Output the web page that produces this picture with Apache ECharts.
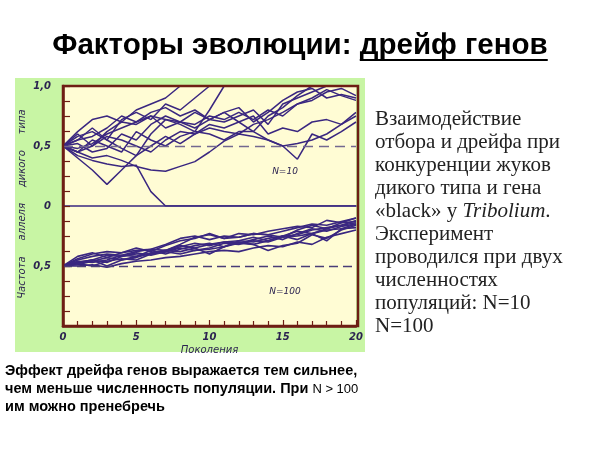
<!DOCTYPE html>
<html><head><meta charset="utf-8">
<script src="https://cdn.jsdelivr.net/npm/echarts@6/dist/echarts.min.js"></script>
<style>html,body{margin:0;padding:0;background:#fff}#c{width:600px;height:450px}</style>
</head><body><div id="c"></div>
<script>
var generations = [0,1,2,3,4,5,6,7,8,9,10,11,12,13,14,15,16,17,18,19,20];
var xTickLabels = ['0','5','10','15','20'];
var topTickLabels = {0:'0',0.5:'0,5',1:'1,0'};
var bottomTickLabels = {0.5:'0,5'};
var titlePlain = 'Факторы эволюции: ';
var titleUnderlined = 'дрейф генов';

// N = 10 populations
var n10_1 = [0.5,0.42,0.38,0.35,0.33,0.34,0.12,0,0,0,0,0,0,0,0,0,0,0,0,0,0];
var n10_2 = [0.5,0.4,0.3,0.18,0.3,0.42,0.6,0.72,0.7,0.68,0.75,0.72,0.78,0.72,0.8,0.75,0.85,0.9,0.97,0.92,0.88];
var n10_3 = [0.5,0.45,0.55,0.5,0.45,0.62,0.55,0.5,0.58,0.62,0.6,0.55,0.62,0.62,0.55,0.5,0.39,0.6,0.55,0.62,0.7];
var n10_4 = [0.5,0.45,0.4,0.42,0.38,0.33,0.3,0.29,0.33,0.37,0.45,0.54,0.6,0.58,0.55,0.5,0.52,0.55,0.6,0.68,0.78];
var n10_5 = [0.5,0.62,0.72,0.75,0.7,0.8,0.85,0.9,1,1,1,1,1,1,1,1,1,1,1,1,1];
var n10_6 = [0.5,0.55,0.65,0.55,0.72,0.78,0.72,0.85,0.8,0.9,1,1,1,1,1,1,1,1,1,1,1];
var n10_7 = [0.5,0.6,0.5,0.62,0.7,0.68,0.75,0.72,0.68,0.62,0.8,1,1,1,1,1,1,1,1,1,1];
var n10_8 = [0.5,0.48,0.52,0.6,0.65,0.7,0.75,0.65,0.7,0.78,0.72,0.7,0.75,0.8,0.68,0.85,0.9,0.95,1,1,1];
var n10_9 = [0.5,0.52,0.45,0.48,0.6,0.55,0.68,0.75,0.7,0.65,0.72,0.78,0.7,0.62,0.75,0.82,0.92,1,1,1,1];
var n10_10 = [0.5,0.45,0.5,0.58,0.55,0.5,0.45,0.55,0.62,0.6,0.68,0.65,0.7,0.75,0.6,0.65,0.62,0.7,0.72,0.68,0.75];
var n10_11 = [0.5,0.58,0.62,0.55,0.48,0.42,0.5,0.58,0.52,0.6,0.65,0.62,0.6,0.68,0.72,0.78,0.85,0.88,0.95,0.98,0.92];
var n10_12 = [0.5,0.55,0.58,0.65,0.75,0.7,0.78,0.82,0.75,0.8,0.72,0.78,0.82,0.7,0.78,0.88,0.95,0.98,0.9,0.93,0.9];

// N = 100 populations
var n100_1 = [0.5,0.56,0.6,0.62,0.61,0.63,0.64,0.68,0.73,0.75,0.72,0.75,0.74,0.77,0.76,0.79,0.82,0.85,0.84,0.87,0.9];
var n100_2 = [0.5,0.53,0.55,0.53,0.58,0.6,0.6,0.63,0.67,0.65,0.68,0.7,0.71,0.7,0.73,0.75,0.76,0.8,0.82,0.84,0.86];
var n100_3 = [0.5,0.5,0.51,0.49,0.52,0.54,0.55,0.57,0.58,0.6,0.62,0.63,0.62,0.65,0.67,0.66,0.7,0.68,0.74,0.77,0.8];
var n100_4 = [0.5,0.55,0.58,0.6,0.59,0.62,0.64,0.63,0.68,0.74,0.76,0.73,0.77,0.76,0.79,0.81,0.83,0.82,0.88,0.86,0.9];
var n100_5 = [0.5,0.52,0.5,0.54,0.56,0.55,0.6,0.62,0.6,0.63,0.64,0.66,0.7,0.68,0.63,0.67,0.69,0.76,0.73,0.8,0.84];
var n100_6 = [0.5,0.58,0.61,0.57,0.61,0.65,0.62,0.67,0.71,0.73,0.77,0.73,0.74,0.77,0.76,0.74,0.8,0.84,0.81,0.86,0.87];
var n100_7 = [0.5,0.51,0.54,0.57,0.55,0.58,0.6,0.62,0.65,0.63,0.65,0.69,0.68,0.71,0.7,0.74,0.75,0.77,0.8,0.81,0.82];
var n100_8 = [0.5,0.53,0.55,0.5,0.55,0.57,0.61,0.63,0.62,0.65,0.6,0.66,0.69,0.68,0.71,0.75,0.72,0.77,0.71,0.81,0.85];
var n100_9 = [0.5,0.52,0.55,0.59,0.58,0.61,0.59,0.62,0.66,0.69,0.67,0.7,0.69,0.72,0.75,0.72,0.77,0.81,0.79,0.83,0.85];
var n100_10 = [0.5,0.54,0.53,0.55,0.59,0.58,0.63,0.6,0.64,0.67,0.69,0.66,0.71,0.74,0.71,0.75,0.79,0.77,0.81,0.84,0.88];

var topSeries = [n10_1,n10_2,n10_3,n10_4,n10_5,n10_6,n10_7,n10_8,n10_9,n10_10,n10_11,n10_12];
var bottomSeries = [n100_1,n100_2,n100_3,n100_4,n100_5,n100_6,n100_7,n100_8,n100_9,n100_10];

var LINE = '#3a2780';
var FRAME = '#6e1e14';
var LABEL = '#2b2350';

function pairs(arr){ return arr.map(function(v,i){ return [generations[i], v]; }); }

var series = [];
topSeries.forEach(function(s, i){
  series.push({type:'line', xAxisIndex:0, yAxisIndex:0, data:pairs(s), symbol:'none', silent:true,
    lineStyle:{color:LINE, width:1.5}, z:3,
    markLine: i===0 ? {silent:true, symbol:'none', label:{show:false},
      lineStyle:{color:'#736890', type:[10,6], width:1.3}, data:[{yAxis:0.5}]} : undefined});
});
bottomSeries.forEach(function(s, i){
  series.push({type:'line', xAxisIndex:1, yAxisIndex:1, data:pairs(s), symbol:'none', silent:true,
    lineStyle:{color:LINE, width:1.6}, z:3,
    markLine: i===0 ? {silent:true, symbol:'none', label:{show:false},
      lineStyle:{color:'#4a3d78', type:[9,5], width:1.4}, data:[{yAxis:0.5}]} : undefined});
});

var axisFont = {fontFamily:'DejaVu Sans', fontStyle:'italic', fontWeight:'bold', fontSize:10, color:LABEL};

// title geometry measured from the font
var titleFont = 'bold 29.5px "Liberation Sans"';
var mctx = document.createElement('canvas').getContext('2d');
mctx.font = titleFont;
var wPlain = mctx.measureText(titlePlain).width;
var wUnder = mctx.measureText(titleUnderlined).width;
var titleLeft = 300 - (wPlain + wUnder) / 2;

var chart = echarts.init(document.getElementById('c'), null, {renderer:'canvas'});
chart.setOption({
  animation:false,
  backgroundColor:'#ffffff',
  grid:[
    {left:63, top:86, width:293, height:120, show:true, backgroundColor:'#fffcd4', borderWidth:0},
    {left:63, top:206, width:293, height:120, show:true, backgroundColor:'#fffcd4', borderWidth:0}
  ],
  xAxis:[
    {gridIndex:0, type:'value', min:0, max:20, interval:5, position:'bottom',
      axisLine:{show:true, onZero:false, lineStyle:{color:LINE, width:1.5}},
      axisTick:{show:false}, axisLabel:{show:false}, splitLine:{show:false}},
    {gridIndex:1, type:'value', min:0, max:20, interval:5, position:'bottom',
      axisLine:{show:true, onZero:false, lineStyle:{color:FRAME, width:2.5}},
      axisTick:{show:true, inside:true, length:6, lineStyle:{color:FRAME, width:1.2}},
      minorTick:{show:true, splitNumber:5, length:5, lineStyle:{color:FRAME, width:1.2}},
      axisLabel:Object.assign({margin:6, formatter:function(v){ return xTickLabels[v/5] || ''; }}, axisFont),
      splitLine:{show:false}, name:'Поколения', nameLocation:'middle', nameGap:19,
      nameTextStyle:{fontFamily:'DejaVu Sans', fontStyle:'italic', fontSize:10, color:LABEL}}
  ],
  yAxis:[
    {gridIndex:0, type:'value', min:0, max:1, interval:0.125,
      axisLine:{show:true, onZero:false, lineStyle:{color:FRAME, width:2.5}},
      axisTick:{show:true, inside:true, length:7, lineStyle:{color:FRAME, width:1.2}},
      axisLabel:Object.assign({margin:12, showMinLabel:true, showMaxLabel:true,
        formatter:function(v){ return topTickLabels[v] || ''; }}, axisFont),
      splitLine:{show:false}},
    {gridIndex:1, type:'value', min:0, max:1, interval:0.125,
      axisLine:{show:true, onZero:false, lineStyle:{color:FRAME, width:2.5}},
      axisTick:{show:true, inside:true, length:7, lineStyle:{color:FRAME, width:1.2}},
      axisLabel:Object.assign({margin:12, showMinLabel:false, showMaxLabel:false,
        formatter:function(v){ return bottomTickLabels[v] || ''; }}, axisFont),
      splitLine:{show:false}}
  ],
  graphic:[
    {type:'rect', z:-10, shape:{x:15, y:78, width:350, height:274}, style:{fill:'#c8f5a4'}},
    {type:'rect', z:100, shape:{x:63, y:86, width:295, height:240}, style:{fill:null, stroke:FRAME, lineWidth:2.5}},
    {type:'text', z:100, x:285, y:172, style:{text:'N=10', font:'italic 9px "DejaVu Sans"', fill:LABEL, textAlign:'center', textVerticalAlign:'middle'}},
    {type:'text', z:100, x:285, y:292, style:{text:'N=100', font:'italic 9px "DejaVu Sans"', fill:LABEL, textAlign:'center', textVerticalAlign:'middle'}},
    {type:'text', z:100, x:22, y:204, rotation:Math.PI/2,
      style:{text:'Частота     аллеля     дикого     типа', font:'italic 10px "DejaVu Sans"', fill:LABEL, textAlign:'center', textVerticalAlign:'middle'}},
    {type:'text', z:100, x:titleLeft, y:46, style:{text:titlePlain, font:titleFont, fill:'#000', textAlign:'left', textVerticalAlign:'middle'}},
    {type:'text', z:100, x:titleLeft + wPlain, y:46, style:{text:titleUnderlined, font:titleFont, fill:'#000', textAlign:'left', textVerticalAlign:'middle'}},
    {type:'line', z:100, shape:{x1:titleLeft + wPlain, y1:60, x2:titleLeft + wPlain + wUnder, y2:60}, style:{stroke:'#000', lineWidth:2}},
    {type:'text', z:100, x:375, y:108, style:{
      text:'Взаимодействие\nотбора и дрейфа при\nконкуренции жуков\nдикого типа и гена\n«black» у {i|Tribolium}.\nЭксперимент\nпроводился при двух\nчисленностях\nпопуляций: N=10\nN=100',
      rich:{i:{font:'italic 21px "Liberation Serif"', fill:'#222'}},
      font:'21px "Liberation Serif"', fill:'#222', lineHeight:23, textAlign:'left', textVerticalAlign:'top'}},
    {type:'text', z:100, x:5, y:362, style:{
      text:'Эффект дрейфа генов выражается тем сильнее,\nчем меньше численность популяции. При {s|N > 100}\nим можно пренебречь',
      rich:{s:{font:'13px "Liberation Sans"', fill:'#000'}},
      font:'bold 14.5px "Liberation Sans"', fill:'#000', lineHeight:18, textAlign:'left', textVerticalAlign:'top'}}
  ],
  series:series
});
</script></body></html>
